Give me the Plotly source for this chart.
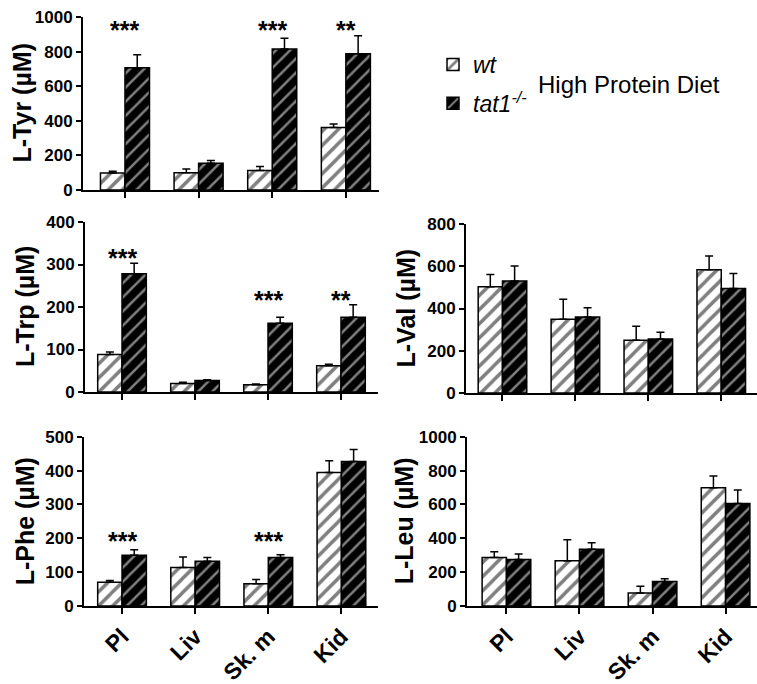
import plotly.graph_objects as go

W, H = 757, 684
FONT = "Arial, Liberation Sans, sans-serif"

categories = ["Pl", "Liv", "Sk. m", "Kid"]

tyr_wt = [98, 100, 112, 361]
tyr_wt_err = [10, 22, 24, 20]
tyr_tat = [707, 154, 815, 788]
tyr_tat_err = [75, 16, 62, 104]
tyr_sig = ["***", "", "***", "**"]
tyr_sig_y = [961, 0, 961, 961]

trp_wt = [88, 20, 17, 62]
trp_wt_err = [6, 3, 2, 3]
trp_tat = [278, 27, 162, 176]
trp_tat_err = [25, 2, 14, 29]
trp_sig = ["***", "", "***", "**"]
trp_sig_y = [329, 0, 231, 231]

val_wt = [503, 349, 250, 583]
val_wt_err = [58, 95, 66, 65]
val_tat = [530, 360, 256, 495]
val_tat_err = [71, 43, 32, 71]

phe_wt = [70, 114, 66, 394]
phe_wt_err = [5, 31, 12, 35]
phe_tat = [150, 132, 143, 427]
phe_tat_err = [16, 11, 8, 35]
phe_sig = ["***", "", "***", ""]
phe_sig_y = [210, 0, 210, 0]

leu_wt = [287, 268, 77, 699]
leu_wt_err = [34, 124, 39, 69]
leu_tat = [274, 335, 144, 606]
leu_tat_err = [33, 39, 17, 79]

y_titles = ["L-Tyr (µM)", "L-Trp (µM)", "L-Val (µM)", "L-Phe (µM)", "L-Leu (µM)"]


def xd(a, b):
    return [a / W, b / W]


def yd(top, bottom):
    return [1 - bottom / H, 1 - top / H]


panels = [
    dict(wt=tyr_wt, wte=tyr_wt_err, tat=tyr_tat, tate=tyr_tat_err, ymax=1000, dtick=200,
         xdom=(83, 379), ydom=(17, 190), xr=(-0.57, 3.45), lab=False, sig=tyr_sig, sigy=tyr_sig_y, tx=22),
    dict(wt=trp_wt, wte=trp_wt_err, tat=trp_tat, tate=trp_tat_err, ymax=400, dtick=100,
         xdom=(85, 378), ydom=(222, 392), xr=(-0.507, 3.507), lab=False, sig=trp_sig, sigy=trp_sig_y, tx=25),
    dict(wt=val_wt, wte=val_wt_err, tat=val_tat, tate=val_tat_err, ymax=800, dtick=200,
         xdom=(466, 757), ydom=(224, 393), xr=(-0.5, 3.49), lab=False, sig=None, sigy=None, tx=406),
    dict(wt=phe_wt, wte=phe_wt_err, tat=phe_tat, tate=phe_tat_err, ymax=500, dtick=100,
         xdom=(84, 378), ydom=(436.7, 606), xr=(-0.52, 3.5), lab=True, sig=phe_sig, sigy=phe_sig_y, tx=25),
    dict(wt=leu_wt, wte=leu_wt_err, tat=leu_tat, tate=leu_tat_err, ymax=1000, dtick=200,
         xdom=(467, 757), ydom=(436.7, 606), xr=(-0.54, 3.43), lab=True, sig=None, sigy=None, tx=404),
]

fig = go.Figure()
annotations = []
layout = {}

for i, p in enumerate(panels):
    n = "" if i == 0 else str(i + 1)
    xa, ya = "x" + n, "y" + n
    fig.add_trace(go.Bar(
        x=categories, y=p["wt"], xaxis=xa, yaxis=ya, name="<i>wt</i>",
        showlegend=(i == 0), legendgroup="wt",
        marker=dict(color="white", line=dict(color="black", width=1.5),
                    pattern=dict(shape="/", bgcolor="white", fgcolor="black", size=10, solidity=0.35)),
        error_y=dict(type="data", array=p["wte"], arrayminus=[0] * 4, symmetric=False,
                     color="black", thickness=1.5, width=4),
    ))
    fig.add_trace(go.Bar(
        x=categories, y=p["tat"], xaxis=xa, yaxis=ya, name="<i>tat1<sup>-/-</sup></i>",
        showlegend=(i == 0), legendgroup="tat",
        marker=dict(color="black", line=dict(color="black", width=1.5),
                    pattern=dict(shape="/", bgcolor="black", fgcolor="white", size=10, solidity=0.25)),
        error_y=dict(type="data", array=p["tate"], arrayminus=[0] * 4, symmetric=False,
                     color="black", thickness=1.5, width=4),
    ))
    layout["xaxis" + n] = dict(
        domain=xd(*p["xdom"]), anchor=ya, range=list(p["xr"]), type="category", automargin=False,
        showline=True, linecolor="black", linewidth=2, ticks="outside", ticklen=6, tickwidth=2,
        tickcolor="black", showgrid=False, zeroline=False,
        showticklabels=p["lab"], tickangle=-45,
        tickfont=dict(family=FONT, size=23, color="black", weight="bold"),
    )
    layout["yaxis" + n] = dict(
        domain=yd(*p["ydom"]), anchor=xa, range=[0, p["ymax"]], dtick=p["dtick"], tick0=0, automargin=False,
        showline=True, linecolor="black", linewidth=2, ticks="outside", ticklen=5, tickwidth=2,
        tickcolor="black", showgrid=False, zeroline=False,
        tickfont=dict(family=FONT, size=17, color="black", weight="bold"),
    )
    yc = 1 - (p["ydom"][0] + p["ydom"][1]) / 2 / H
    annotations.append(dict(
        text=y_titles[i], xref="paper", yref="paper", x=p["tx"] / W, y=yc,
        xanchor="center", yanchor="middle", textangle=-90, showarrow=False,
        font=dict(family=FONT, size=25, color="black", weight="bold"),
    ))
    if p["sig"]:
        for c, s, sy in zip(categories, p["sig"], p["sigy"]):
            if s:
                annotations.append(dict(
                    text=s, x=c, y=sy, xref=xa, yref=ya, showarrow=False,
                    xanchor="center", yanchor="middle", yshift=-6,
                    font=dict(family=FONT, size=25, color="black", weight="bold"),
                ))

annotations.append(dict(
    text="High Protein Diet", xref="paper", yref="paper", x=629 / W, y=1 - 85 / H,
    xanchor="center", yanchor="middle", showarrow=False,
    font=dict(family=FONT, size=24, color="black"),
))

fig.update_layout(
    **layout,
    width=W, height=H,
    margin=dict(l=0, r=0, t=0, b=0, autoexpand=False),
    paper_bgcolor="white", plot_bgcolor="white",
    barmode="group", bargap=0.334, bargroupgap=0,
    annotations=annotations,
    showlegend=True,
    legend=dict(x=433 / W, y=1 - 43 / H, xanchor="left", yanchor="top",
                font=dict(family=FONT, size=23, color="black"),
                bgcolor="rgba(0,0,0,0)", tracegroupgap=6, traceorder="grouped"),
)

fig.write_html("out.html", config={"displayModeBar": False})

# remove the browser's default page margin so the figure sits at the window's top-left corner
with open("out.html", encoding="utf-8") as f:
    html = f.read()
html = html.replace("<head>", "<head><style>html,body{margin:0;padding:0;overflow:hidden;}</style>", 1)
with open("out.html", "w", encoding="utf-8") as f:
    f.write(html)
